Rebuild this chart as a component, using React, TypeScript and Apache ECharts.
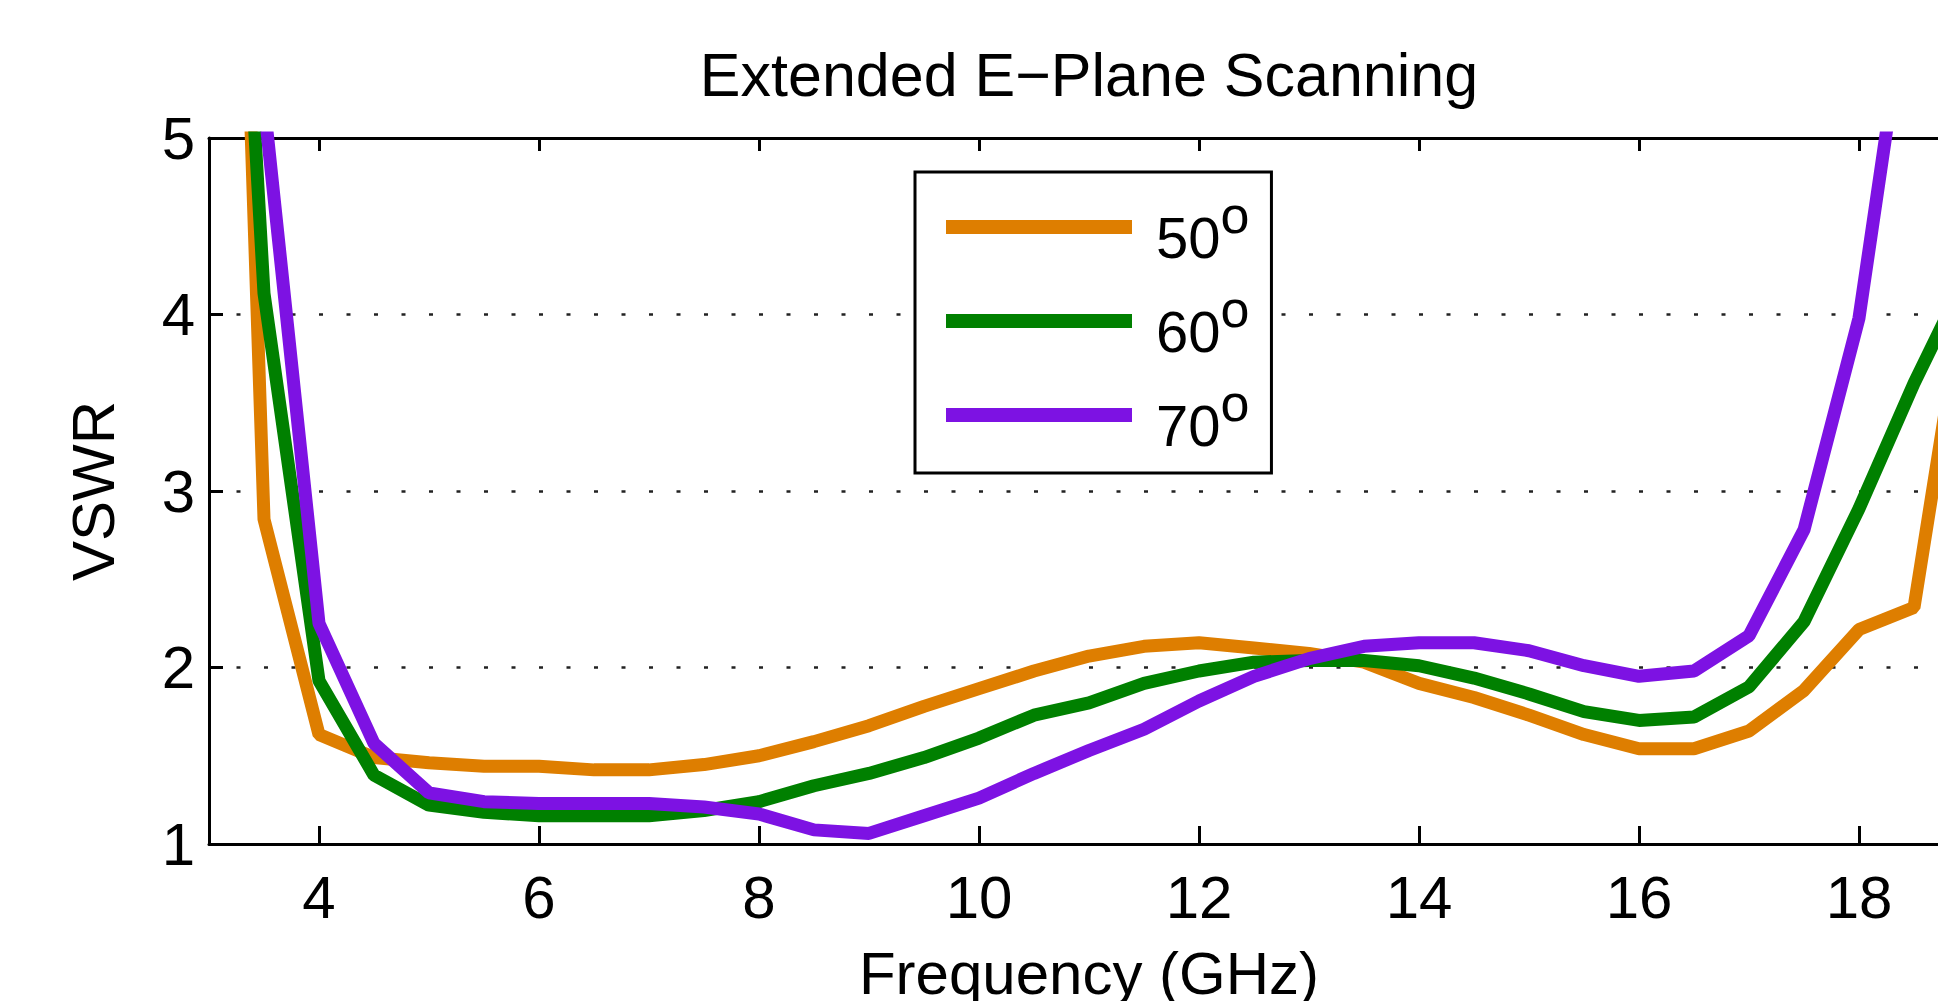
import React, { useEffect, useRef } from 'react';
import * as echarts from 'echarts';

// Frequency samples (GHz)
const frequencyGHz = [
  3, 3.5, 4, 4.5, 5, 5.5, 6, 6.5, 7, 7.5, 8, 8.5, 9, 9.5, 10, 10.5, 11,
  11.5, 12, 12.5, 13, 13.5, 14, 14.5, 15, 15.5, 16, 16.5, 17, 17.5, 18, 18.5, 19,
];

// VSWR at 50 degrees scan
const vswr50 = [
  12.2, 2.84, 1.62, 1.49, 1.46, 1.44, 1.44, 1.42, 1.42, 1.45, 1.5, 1.58, 1.67,
  1.78, 1.88, 1.98, 2.065, 2.12, 2.14, 2.11, 2.08, 2.03, 1.91, 1.83, 1.73, 1.62,
  1.54, 1.54, 1.64, 1.87, 2.215, 2.34, 4.3,
];

// VSWR at 60 degrees scan
const vswr60 = [
  9.6, 4.12, 1.925, 1.39, 1.22, 1.18, 1.16, 1.16, 1.16, 1.19, 1.24, 1.33, 1.4,
  1.49, 1.6, 1.73, 1.8, 1.91, 1.98, 2.03, 2.04, 2.04, 2.01, 1.94, 1.85, 1.75,
  1.7, 1.72, 1.89, 2.26, 2.9, 3.61, 4.25,
];

// VSWR at 70 degrees scan
const vswr70 = [
  8.0, 5.2, 2.25, 1.57, 1.29, 1.24, 1.23, 1.23, 1.23, 1.21, 1.17, 1.08, 1.06,
  1.16, 1.26, 1.4, 1.53, 1.65, 1.81, 1.95, 2.05, 2.12, 2.14, 2.14, 2.095, 2.01,
  1.95, 1.98, 2.18, 2.78, 3.98, 6.1, 9.0,
];

const angleLabels = ['50', '60', '70'];
const seriesColors = ['#de7e00', '#008000', '#7d12e3'];
const xTickValues = [4, 6, 8, 10, 12, 14, 16, 18];

export default function App() {
  const ref = useRef<HTMLDivElement>(null);

  useEffect(() => {
    document.body.style.margin = '0';
    const chart = echarts.init(ref.current as HTMLDivElement, null, { renderer: 'svg' });
    const font = '"Liberation Sans", Arial, Helvetica, sans-serif';
    const allSeries = [vswr50, vswr60, vswr70];

    chart.setOption({
      animation: false,
      backgroundColor: '#ffffff',
      title: {
        text: 'Extended E\u2212Plane Scanning',
        left: 1089,
        top: 44,
        padding: 0,
        textAlign: 'center',
        textStyle: { fontSize: 61, fontWeight: 'normal', fontFamily: font, color: '#000' },
      },
      legend: {
        orient: 'vertical',
        left: 915,
        top: 172,
        padding: [16, 22, 19, 31],
        itemWidth: 186,
        itemHeight: 14,
        itemGap: 16,
        icon: 'rect',
        borderColor: '#000',
        borderWidth: 3,
        borderRadius: 0,
        backgroundColor: '#ffffff',
        data: angleLabels.map((a) => a + '\u00b0'),
        formatter: (name: string) => `{n|${name.replace('\u00b0', '')}}{s|o}`,
        textStyle: {
          fontFamily: font,
          color: '#000',
          rich: {
            n: {
              fontSize: 58,
              fontFamily: font,
              color: '#000',
              lineHeight: 60,
              padding: [20, 0, 0, 19],
            },
            s: {
              fontSize: 52,
              fontFamily: font,
              color: '#000',
              lineHeight: 46,
              padding: [0, 0, 25, 0],
            },
          },
        },
      },
      grid: {
        left: 209,
        top: 138,
        width: 1760,
        height: 706,
        containLabel: false,
        outerBoundsMode: 'none',
      },
      xAxis: [
        {
          type: 'value',
          min: 3,
          max: 19,
          position: 'bottom',
          name: 'Frequency (GHz)',
          nameLocation: 'middle',
          nameGap: 99,
          nameTextStyle: { fontSize: 60, fontFamily: font, color: '#000' },
          axisLine: { show: true, onZero: false, lineStyle: { color: '#000', width: 3 } },
          axisTick: {
            show: true,
            inside: true,
            length: 18,
            customValues: xTickValues,
            lineStyle: { color: '#000', width: 3 },
          },
          axisLabel: {
            show: true,
            customValues: xTickValues,
            margin: 23,
            fontSize: 60,
            fontFamily: font,
            color: '#000',
          },
          splitLine: { show: false },
        },
        {
          type: 'value',
          min: 3,
          max: 19,
          position: 'top',
          axisLine: { show: true, onZero: false, lineStyle: { color: '#000', width: 3 } },
          axisTick: {
            show: true,
            inside: true,
            length: 13,
            customValues: xTickValues,
            lineStyle: { color: '#000', width: 3 },
          },
          axisLabel: { show: false },
          splitLine: { show: false },
        },
      ],
      yAxis: [
        {
          type: 'value',
          min: 1,
          max: 5,
          interval: 1,
          name: 'VSWR',
          nameLocation: 'middle',
          nameGap: 86,
          nameRotate: 90,
          nameTextStyle: { fontSize: 60, fontFamily: font, color: '#000' },
          axisLine: { show: true, onZero: false, lineStyle: { color: '#000', width: 3 } },
          axisTick: { show: true, inside: true, length: 14, lineStyle: { color: '#000', width: 3 } },
          axisLabel: { margin: 14, fontSize: 60, fontFamily: font, color: '#000' },
          splitLine: { show: true, lineStyle: { color: '#222', width: 2.5, type: [4, 23.5] } },
        },
      ],
      series: allSeries.map((vals, i) => ({
        type: 'line',
        name: angleLabels[i] + '\u00b0',
        xAxisIndex: 0,
        yAxisIndex: 0,
        data: frequencyGHz.map((f, j) => [f, vals[j]]),
        showSymbol: false,
        symbol: 'none',
        clip: true,
        color: seriesColors[i],
        lineStyle: { color: seriesColors[i], width: 13 },
        z: 2 + i,
      })),
    });

    return () => chart.dispose();
  }, []);

  return (
    <div
      ref={ref}
      style={{ position: 'absolute', left: 0, top: 0, width: 1938, height: 1001, background: '#fff' }}
    />
  );
}
